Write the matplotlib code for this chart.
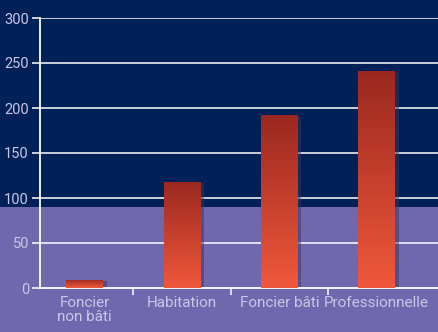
import numpy as np
import matplotlib
matplotlib.use("Agg")
import matplotlib.pyplot as plt
from matplotlib.patches import Rectangle
from matplotlib.colors import LinearSegmentedColormap

categories = ["Foncier\nnon bâti", "Habitation", "Foncier bâti", "Professionnelle"]
values = [9, 118, 192, 241]
yticks = [0, 50, 100, 150, 200, 250, 300]

NAVY = "#002157"
LAVENDER = "#6f68ae"
LABEL = "#c9c6e6"

plt.rcParams["font.family"] = ["Roboto", "DejaVu Sans"]

fig = plt.figure(figsize=(4.39, 3.32), dpi=100)
fig.patch.set_facecolor(LAVENDER)
# bande bleu nuit en haut de la figure
fig.patches.append(Rectangle((0, 1 - 207 / 332), 1, 207 / 332, transform=fig.transFigure,
                             facecolor=NAVY, edgecolor="none", zorder=-5))

ax = fig.add_axes([40 / 439, 44 / 332, 1 - 40 / 439, 270 / 332])
ax.set_zorder(2)
ax.set_facecolor("none")

for y in yticks[1:]:
    ax.axhline(y, color="white", lw=1.1, zorder=1)

cmap = LinearSegmentedColormap.from_list("bar", ["#f0583b", "#9b281f"])
grad = np.linspace(0, 1, 256).reshape(-1, 1)
width = 0.38
for i, v in enumerate(values):
    # ombre
    ax.add_patch(Rectangle((i - width / 2 + 0.035, 0), width, v - 1.5,
                           facecolor="#3a3560", alpha=0.5, edgecolor="none", zorder=2))
    bar = Rectangle((i - width / 2, 0), width, v, facecolor="none", edgecolor="none", zorder=3)
    ax.add_patch(bar)
    im = ax.imshow(grad, cmap=cmap, aspect="auto", origin="lower",
                   extent=(i - width / 2, i + width / 2, 0, v), zorder=3)
    im.set_clip_path(bar)

ax.set_xlim(-0.46, 3.64)
ax.set_ylim(0, 300)

for s in ["top", "right"]:
    ax.spines[s].set_visible(False)
for s in ["left", "bottom"]:
    ax.spines[s].set_color("white")
    ax.spines[s].set_linewidth(1.3)

ax.set_yticks(yticks)
ax.tick_params(axis="y", colors="white", labelcolor=LABEL, labelsize=10.5, length=6, width=1.1, pad=2)
ax.set_xticks([0.5, 1.5, 2.5])
ax.set_xticklabels([])
ax.set_xticks(range(len(categories)), minor=True)
ax.set_xticklabels(categories, minor=True, fontsize=11, color=LABEL, linespacing=1.0)
ax.tick_params(axis="x", which="major", colors="white", length=5, width=1.1)
ax.tick_params(axis="x", which="minor", length=0, pad=6)

fig.savefig("out.png", dpi=100, facecolor=fig.get_facecolor())
